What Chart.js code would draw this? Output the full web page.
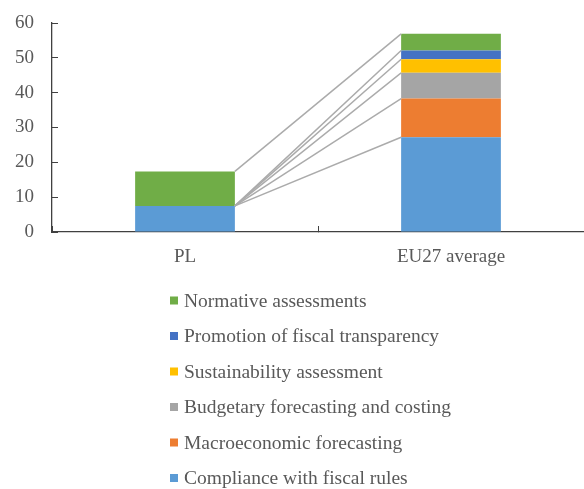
<!DOCTYPE html>
<html>
<head>
<meta charset="utf-8">
<style>
  html, body { margin: 0; padding: 0; background: #ffffff; }
  #c { display: block; }
</style>
<script src="https://cdn.jsdelivr.net/npm/chart.js@4/dist/chart.umd.min.js"></script>
</head>
<body>
<canvas id="c" width="584" height="489"></canvas>
<script>
const categories = ['PL', 'EU27 average'];
const seriesNames = [
  'Compliance with fiscal rules',
  'Macroeconomic forecasting',
  'Budgetary forecasting and costing',
  'Sustainability assessment',
  'Promotion of fiscal transparency',
  'Normative assessments'
];
const compliance = [7.5, 27.2];
const macro = [0, 11.1];
const budgetary = [0, 7.4];
const sustainability = [0, 3.9];
const promotion = [0, 2.5];
const normative = [9.9, 4.8];
const yTicks = [0, 10, 20, 30, 40, 50, 60];

const seriesValues = [compliance, macro, budgetary, sustainability, promotion, normative];
const colors = ['#5B9BD5', '#ED7D31', '#A5A5A5', '#FFC000', '#4472C4', '#70AD47'];

const FONT = "'Liberation Serif', 'Times New Roman', serif";
const TEXT = '#595959';
const AXIS = '#404040';

const connectorPlugin = {
  id: 'connectors',
  afterDatasetsDraw(chart) {
    const ctx = chart.ctx;
    ctx.save();
    ctx.strokeStyle = '#ABABAB';
    ctx.lineWidth = 1.5;
    chart.data.datasets.forEach((ds, i) => {
      const meta = chart.getDatasetMeta(i);
      const a = meta.data[0], b = meta.data[1];
      if (!a || !b) return;
      ctx.beginPath();
      ctx.moveTo(a.x + a.width / 2, a.y);
      ctx.lineTo(b.x - b.width / 2, b.y);
      ctx.stroke();
    });
    ctx.restore();
  }
};

const legendPlugin = {
  id: 'vlegend',
  afterDraw(chart) {
    const ctx = chart.ctx;
    const n = chart.data.datasets.length;
    ctx.save();
    ctx.font = "19.5px " + FONT;
    ctx.textBaseline = 'middle';
    ctx.textAlign = 'left';
    for (let k = 0; k < n; k++) {
      const i = n - 1 - k;
      const ds = chart.data.datasets[i];
      const y = 300.5 + k * 35.5;
      ctx.fillStyle = ds.backgroundColor;
      ctx.fillRect(170, y - 4, 8, 8);
      ctx.fillStyle = TEXT;
      ctx.fillText(ds.label, 184, y + 1);
    }
    ctx.restore();
  }
};

new Chart(document.getElementById('c'), {
  type: 'bar',
  data: {
    labels: categories,
    datasets: seriesNames.map((name, i) => ({
      label: name,
      data: seriesValues[i],
      backgroundColor: colors[i],
      borderWidth: 0,
      barPercentage: 0.375,
      categoryPercentage: 1.0
    }))
  },
  options: {
    responsive: false,
    animation: false,
    layout: { padding: { top: 23, right: 0, left: 0, bottom: 0 } },
    plugins: {
      legend: { display: false },
      tooltip: { enabled: false }
    },
    scales: {
      x: {
        stacked: true,
        offset: true,
        grid: { display: true, drawOnChartArea: false, offset: true, color: AXIS, tickLength: -6, lineWidth: 1 },
        border: { display: true, color: AXIS, width: 1.3 },
        ticks: { color: TEXT, font: { family: FONT, size: 19 }, padding: 20 },
        afterFit(scale) { scale.height = 257; scale.paddingLeft = 0; scale.paddingRight = 0; }
      },
      y: {
        stacked: true,
        min: 0,
        max: 60,
        afterBuildTicks(scale) { scale.ticks = yTicks.map(v => ({ value: v })); },
        grid: { display: true, drawOnChartArea: false, color: AXIS, tickLength: -6, lineWidth: 1 },
        border: { display: true, color: AXIS, width: 1.3 },
        ticks: { color: TEXT, font: { family: FONT, size: 19 }, padding: 24 },
        afterFit(scale) { scale.width = 52; scale.paddingTop = 0; scale.paddingBottom = 0; }
      }
    }
  },
  plugins: [connectorPlugin, legendPlugin]
});
</script>
</body>
</html>
